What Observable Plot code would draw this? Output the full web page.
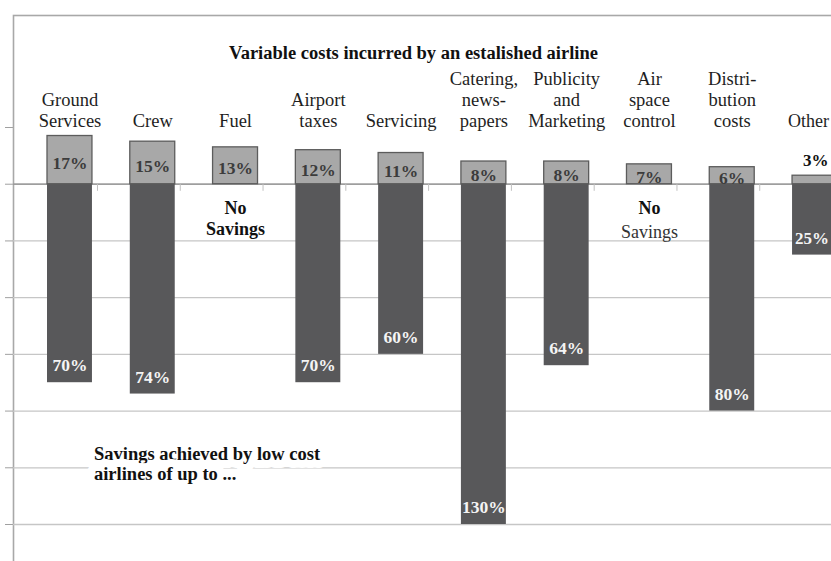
<!DOCTYPE html>
<html>
<head>
<meta charset="utf-8">
<script src="https://cdn.jsdelivr.net/npm/d3@7"></script>
<script src="https://cdn.jsdelivr.net/npm/@observablehq/plot@0.6"></script>
<style>
  html, body { margin: 0; padding: 0; background: #fff; }
  #chart svg { display: block; }
</style>
</head>
<body>
<div id="chart"></div>
<script>
// ---- data ----
const categories = ["Ground Services", "Crew", "Fuel", "Airport taxes", "Servicing",
  "Catering, news-papers", "Publicity and Marketing", "Air space control", "Distribution costs", "Other"];
const categoryLabels = ["Ground\nServices", "Crew", "Fuel", "Airport\ntaxes", "Servicing",
  "Catering,\nnews-\npapers", "Publicity\nand\nMarketing", "Air\nspace\ncontrol", "Distri-\nbution\ncosts", "Other"];
const costShare = [17, 15, 13, 12, 11, 8, 8, 7, 6, 3];            // % of variable costs
const savingsUpTo = [70, 74, null, 70, 60, 130, 64, null, 80, 25]; // % savings by low cost airlines
const gridValues = [0, -20, -40, -60, -80, -100, -120];
const tickValues = [20, 0, -20, -40, -60, -80, -100, -120];
const titleText = "Variable costs incurred by an estalished airline";
const noteText = "Savings achieved by low cost\nairlines of up to ...";

const rows = categories.map((c, i) => ({
  category: c, label: categoryLabels[i], cost: costShare[i], saving: savingsUpTo[i]
}));
const withSaving = rows.filter(d => d.saving != null);
const noSaving = rows.filter(d => d.saving == null);
const lastCat = categories[categories.length - 1]; // sits at the right edge, labels start-anchored
const isEdge = d => d.category === lastCat;

const serif = "Liberation Serif, Times New Roman, serif";

const chart = Plot.plot({
  width: 831,
  height: 561,
  marginLeft: 13,
  marginTop: 15,
  marginRight: -40,
  marginBottom: -40,
  style: { fontFamily: serif, background: "#fff", color: "#a0a0a0", overflow: "hidden" },
  x: { domain: categories, range: [47, 837], paddingInner: 0.457, paddingOuter: 0, round: false, axis: null },
  y: { domain: [-120, 20], range: [524, 127], clamp: true, ticks: tickValues, tickSize: 8,
       tickFormat: () => "", label: null },
  marks: [
    Plot.frame({ stroke: "#a8a8a8", strokeWidth: 1.6 }),
    Plot.ruleY(gridValues, { stroke: "#c6c6c6", strokeWidth: 1.3 }),
    Plot.ruleY([0], { stroke: "#8c8c8c", strokeWidth: 1.3 }),
    Plot.ruleX(categories, { x: d => d, y1: 0, y2: -2.5, dx: 27.5, stroke: "#c0c0c0" }),
    // savings (down)
    Plot.barY(withSaving, { x: "category", y: d => -d.saving, fill: "#58585a" }),
    // cost share (up)
    Plot.barY(rows, { x: "category", y: "cost", fill: "#a8a8a8", stroke: "#5c5c5c", strokeWidth: 1.3 }),
    // labels on cost bars
    Plot.text(rows.filter(d => d.cost >= 5), {
      x: "category", y: d => d.cost / 2, dy: 3, text: d => d.cost + "%",
      fill: "#3c3c3c", fontWeight: "bold", fontSize: 17.5
    }),
    Plot.text(rows.filter(d => d.cost < 5), {
      x: "category", y: "cost", dy: -15, dx: -12, textAnchor: "start", text: d => d.cost + "%",
      fill: "#111", fontWeight: "bold", fontSize: 17
    }),
    // labels on savings bars
    Plot.text(withSaving.filter(d => !isEdge(d)), {
      x: "category", y: d => -d.saving, dy: -17, text: d => d.saving + "%",
      fill: "#f4f4f4", fontWeight: "bold", fontSize: 17.5
    }),
    Plot.text(withSaving.filter(isEdge), {
      x: "category", y: d => -d.saving, dy: -17, dx: -20, textAnchor: "start", text: d => d.saving + "%",
      fill: "#f4f4f4", fontWeight: "bold", fontSize: 17
    }),
    // No savings
    Plot.text(noSaving, {
      x: "category", y: 0, dy: 24, text: () => "No",
      fill: "#111", fontWeight: "bold", fontSize: 18
    }),
    Plot.text(noSaving.filter(d => d.category === "Fuel"), {
      x: "category", y: 0, dy: 45, text: () => "Savings",
      fill: "#111", fontWeight: "bold", fontSize: 18
    }),
    Plot.text(noSaving.filter(d => d.category !== "Fuel"), {
      x: "category", y: 0, dy: 48, text: () => "Savings",
      fill: "#333", fontSize: 18
    }),
    // category labels
    Plot.text(rows.filter(d => !isEdge(d)), {
      x: "category", y: 20, dy: -1, text: "label", lineAnchor: "bottom", lineHeight: 1.13,
      fill: "#1e1e1e", fontSize: 18.5
    }),
    Plot.text(rows.filter(isEdge), {
      x: "category", y: 20, dy: -1, dx: -27, textAnchor: "start", text: "label", lineAnchor: "bottom",
      fill: "#1e1e1e", fontSize: 18
    }),
    // note
    Plot.text([noteText], {
      x: () => categories[0], y: -96, dx: 24, dy: 7, textAnchor: "start", lineHeight: 1.12,
      fill: "#111", fontWeight: "bold", fontSize: 18.5, stroke: "#fff", strokeWidth: 16
    }),
    // title
    Plot.text([titleText], {
      frameAnchor: "top-left", dx: 400, dy: 30, textAnchor: "middle",
      fill: "#111", fontWeight: "bold", fontSize: 18.5
    })
  ]
});
document.getElementById("chart").appendChild(chart);
</script>
</body>
</html>
